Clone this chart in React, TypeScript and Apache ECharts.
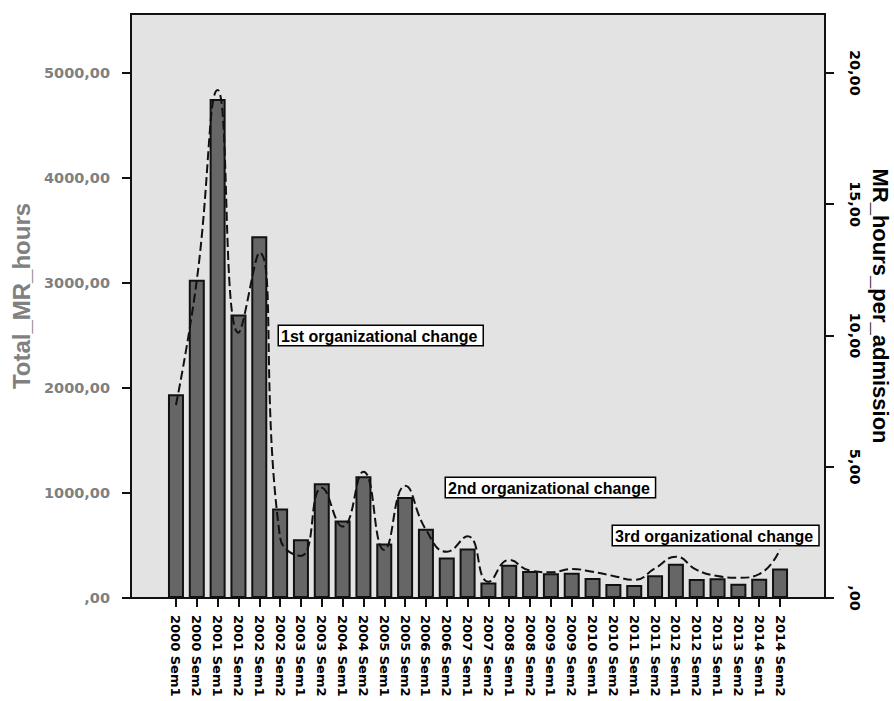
import React, { useEffect, useRef } from "react";
import * as echarts from "echarts";

const categories = [
  "2000 Sem1", "2000 Sem2", "2001 Sem1", "2001 Sem2", "2002 Sem1", "2002 Sem2",
  "2003 Sem1", "2003 Sem2", "2004 Sem1", "2004 Sem2", "2005 Sem1", "2005 Sem2",
  "2006 Sem1", "2006 Sem2", "2007 Sem1", "2007 Sem2", "2008 Sem1", "2008 Sem2",
  "2009 Sem1", "2009 Sem2", "2010 Sem1", "2010 Sem2", "2011 Sem1", "2011 Sem2",
  "2012 Sem1", "2012 Sem2", "2013 Sem1", "2013 Sem2", "2014 Sem1", "2014 Sem2",
];

const totalMRHours = [
  1940, 3030, 4750, 2700, 3445, 851,
  559, 1092, 737, 1159, 518, 962,
  659, 385, 471, 147, 316, 256,
  236, 240, 190, 134, 124, 216,
  325, 180, 188, 135, 184, 280,
];

const mrHoursPerAdmission = [
  7.35, 12.1, 19.35, 10.1, 13.15, 2.3,
  1.6, 4.2, 2.72, 4.81, 1.83, 4.27,
  2.6, 1.76, 2.35, 0.62, 1.45, 1.04,
  0.98, 1.1, 1.0, 0.84, 0.69, 1.13,
  1.57, 1.07, 0.84, 0.77, 0.91, 1.85,
];

const leftTicks = [0, 1000, 2000, 3000, 4000, 5000];
const rightTicks = [0, 5, 10, 15, 20];
const leftMax = 5560;
const rightMax = 22.24;

const annotationTexts = [
  "1st organizational change",
  "2nd organizational change",
  "3rd organizational change",
];

// layout (pixels)
const W = 894;
const H = 701;
const FX0 = 131;
const FY0 = 14;
const FX1 = 825;
const FY1 = 598;
const BAND = 20.83;
const annotationPos = [
  [279, 326],
  [446, 478],
  [613, 526],
];

const FONT = "'Liberation Sans', Arial, Helvetica, sans-serif";
const TICKFONT = "'DejaVu Sans', 'Liberation Sans', Arial, sans-serif";

const fmt = (v: number) => (v === 0 ? ",00" : `${v},00`);

export default function App() {
  const ref = useRef<HTMLDivElement>(null);
  useEffect(() => {
    if (!ref.current) return;
    const chart = echarts.init(ref.current, undefined, { renderer: "svg" });
    const inner = (FX1 - FX0 - categories.length * BAND) / 2;
    const gridLeft = FX0 + inner;
    const gridRight = W - (FX1 - inner);

    const option: any = {
      animation: false,
      backgroundColor: "#ffffff",
      grid: {
        left: gridLeft,
        right: gridRight,
        top: FY0,
        bottom: H - FY1,
        containLabel: false,
        outerBoundsMode: "none",
      },
      graphic: [
        {
          type: "rect",
          z: -1,
          silent: true,
          shape: { x: FX0, y: FY0, width: FX1 - FX0, height: FY1 - FY0 },
          style: { fill: "#e3e3e3" },
        },
        {
          type: "rect",
          z: 50,
          silent: true,
          shape: { x: FX0, y: FY0, width: FX1 - FX0, height: FY1 - FY0 },
          style: { fill: "none", stroke: "#111", lineWidth: 2 },
        },
        ...annotationTexts.map((t, i) => ({
          type: "text",
          z: 60,
          x: annotationPos[i][0],
          y: annotationPos[i][1],
          style: {
            text: t,
            font: `bold 16px ${FONT}`,
            fill: "#000",
            backgroundColor: "#ffffff",
            borderColor: "#000",
            borderWidth: 1.5,
            padding: [2, 5, 1, 2],
            align: "left",
            verticalAlign: "top",
          },
        })),
      ],
      xAxis: {
        type: "category",
        data: categories,
        boundaryGap: true,
        axisLine: { show: false },
        axisTick: {
          show: true,
          alignWithLabel: true,
          length: 9,
          lineStyle: { color: "#111", width: 2 },
        },
        axisLabel: {
          rotate: -90,
          interval: 0,
          margin: 17,
          color: "#000",
          fontWeight: "bold",
          fontSize: 13,
          fontFamily: TICKFONT,
          hideOverlap: false,
        },
        splitLine: { show: false },
      },
      yAxis: [
        {
          type: "value",
          position: "left",
          offset: inner,
          min: 0,
          max: leftMax,
          interval: 1000,
          name: "Total_MR_hours",
          nameLocation: "middle",
          nameGap: 95,
          nameTextStyle: {
            color: "#808080",
            fontWeight: "bold",
            fontSize: 24,
            fontFamily: FONT,
            padding: [0, 0, 0, 20],
          },
          axisLine: { show: true, lineStyle: { color: "#111", width: 2 } },
          axisTick: {
            show: true,
            length: 9,
            customValues: leftTicks,
            lineStyle: { color: "#111", width: 2 },
          },
          axisLabel: {
            customValues: leftTicks,
            formatter: fmt,
            margin: 21,
            color: "#808080",
            fontWeight: "bold",
            fontSize: 14.5,
            fontFamily: TICKFONT,
          },
          splitLine: { show: false },
        },
        {
          type: "value",
          position: "right",
          offset: inner,
          min: 0,
          max: rightMax,
          interval: 5,
          name: "MR_hours_per_admission",
          nameLocation: "middle",
          nameRotate: -90,
          nameGap: 44,
          nameTextStyle: {
            color: "#000",
            fontWeight: "bold",
            fontSize: 22,
            fontFamily: FONT,
          },
          axisLine: { show: true, lineStyle: { color: "#111", width: 2 } },
          axisTick: {
            show: true,
            length: 9,
            customValues: rightTicks,
            lineStyle: { color: "#111", width: 2 },
          },
          axisLabel: {
            customValues: rightTicks,
            formatter: fmt,
            rotate: -90,
            align: "center",
            verticalAlign: "bottom",
            margin: 22,
            color: "#000",
            fontWeight: "bold",
            fontSize: 14.5,
            fontFamily: TICKFONT,
          },
          splitLine: { show: false },
        },
      ],
      series: [
        {
          name: "Total_MR_hours",
          type: "bar",
          yAxisIndex: 0,
          data: totalMRHours,
          barWidth: 16,
          z: 2,
          itemStyle: { color: "#666666", borderColor: "#111", borderWidth: 2 },
        },
        {
          name: "MR_hours_per_admission",
          type: "line",
          yAxisIndex: 1,
          data: mrHoursPerAdmission,
          smooth: 0.5,
          symbol: "none",
          z: 3,
          lineStyle: { color: "#111", width: 2, type: [9, 4] },
        },
      ],
    };
    chart.setOption(option);
    return () => chart.dispose();
  }, []);
  return (
    <div
      ref={ref}
      style={{ position: "absolute", left: 0, top: 0, width: W, height: H }}
    />
  );
}
